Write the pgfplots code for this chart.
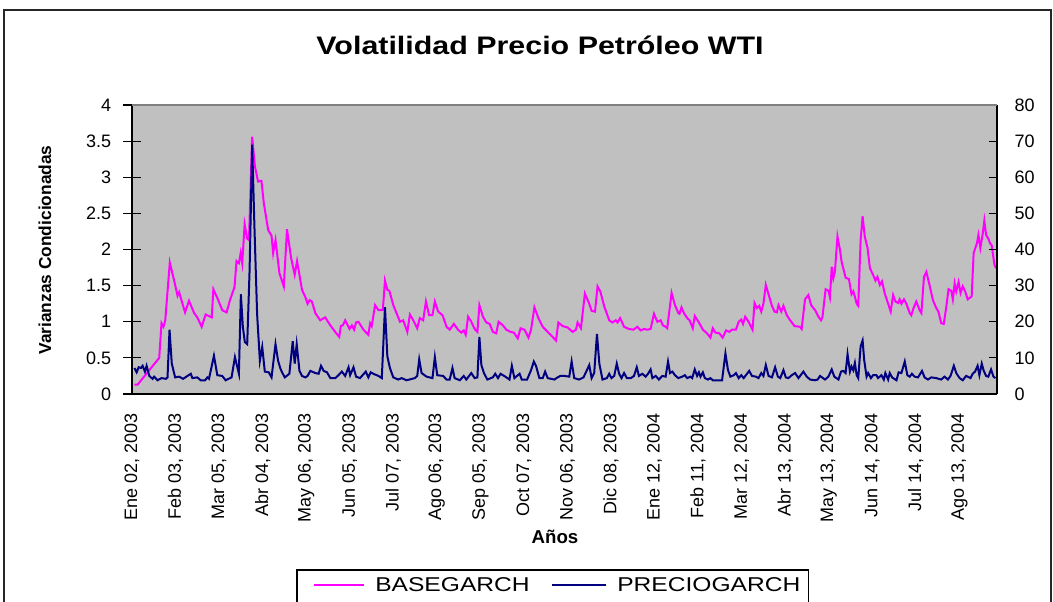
\documentclass[border=0pt]{standalone}
\usepackage{pgfplots}
\pgfplotsset{compat=1.18}
\usepackage{graphicx}
\usepackage{fontspec}
\setmainfont{Liberation Sans}
\definecolor{bgGray}{RGB}{192,192,192}
\definecolor{mag}{RGB}{255,0,255}
\definecolor{nav}{RGB}{0,0,128}
\begin{document}
\begin{tikzpicture}
\path[use as bounding box] (-99pt,-156pt) rectangle (690.75pt,295.5pt);
\clip (-99pt,-156pt) rectangle (690.75pt,295.5pt);
\draw[black!85, line width=0.9pt] (-96pt,288pt) rectangle (689.25pt,-175pt);
\begin{axis}[
 at={(0pt,0pt)}, anchor=south west, scale only axis,
 width=648.75pt, height=216.75pt,
 xmin=0, xmax=437, ymin=0, ymax=4,
 axis x line*=bottom, axis y line*=left,
 axis line style={-, black, line width=1.1pt},
 axis background/.style={fill=bgGray},
 xtick={0,22,...,418},
 xticklabels={{Ene 02, 2003},{Feb 03, 2003},{Mar 05, 2003},{Abr 04, 2003},{May 06, 2003},{Jun 05, 2003},{Jul 07, 2003},{Ago 06, 2003},{Sep 05, 2003},{Oct 07, 2003},{Nov 06, 2003},{Dic 08, 2003},{Ene 12, 2004},{Feb 11, 2004},{Mar 12, 2004},{Abr 13, 2004},{May 13, 2004},{Jun 14, 2004},{Jul 14, 2004},{Ago 13, 2004}},
 xticklabel style={rotate=90, anchor=east, font=\fontsize{13.5}{13.5}\selectfont, inner sep=0pt},
 xticklabel shift=8pt,
 x tick style={draw=none},
 ytick={0,0.5,...,4},
 yticklabel style={font=\fontsize{13.5}{13.5}\selectfont, inner sep=0pt},
 yticklabel shift=9pt,
 y tick style={black, line width=0.9pt},
 tick align=center, major tick length=12.75pt,
 /pgf/number format/assume math mode=true,
]
\addplot[mag, line width=1.5pt] coordinates {
(1.2,0.13)(2.85,0.13)(13.75,0.50)(14.9,0.98)(15.9,0.93)(16.8,1.02)(19.1,1.82)(21.3,1.57)(23,1.36)(23.8,1.41)(26.8,1.13)(28.8,1.29)(31.4,1.12)(33,1.06)(35.2,0.93)(37.2,1.10)(40.3,1.06)(41.1,1.45)(43.1,1.33)(45.6,1.16)(47.8,1.13)(49.5,1.30)(51.8,1.48)(52.8,1.84)(54,1.81)(54.9,1.95)(55.7,1.81)(56.9,2.35)(58.2,2.15)(59.1,2.13)(60.7,3.56)(62.1,3.15)(63.7,2.94)(65.4,2.95)(66.6,2.64)(68.8,2.27)(70.5,2.19)(71.3,1.95)(72.5,2.13)(74.5,1.67)(76.7,1.49)(78.3,2.28)(80.4,1.88)(82.2,1.65)(83.4,1.84)(85.9,1.44)(87.6,1.34)
(88.7,1.25)(89.75,1.30)(90.9,1.28)(92.6,1.12)(95.1,1.02)(97.6,1.06)(100.2,0.95)(103.2,0.84)(104.7,0.79)(105.5,0.94)(106.5,0.95)(107.7,1.02)(109.9,0.90)(111.1,0.95)(112.2,0.89)(113.2,0.99)(114.4,1.00)(116.9,0.89)(119.4,0.82)(120.3,0.98)(121.1,0.94)(122.8,1.23)(124.5,1.16)(126.7,1.16)(127.8,1.57)(129,1.44)(130,1.43)(132,1.23)(135.4,1.00)(137,1.02)(139.1,0.86)(140.4,1.10)(142.1,1.02)(144.1,0.91)(145.4,1.05)(147.1,1.02)(148.5,1.28)(150.1,1.09)(151.8,1.09)(153,1.28)(154.7,1.14)(156.9,1.09)(158.9,0.93)(160.5,0.89)(162.6,0.97)(164.7,0.89)(166.4,0.85)(167.6,0.88)(168.6,0.82)(169.8,1.07)(171.4,1.00)(173.1,0.90)(174.5,0.86)
(175.5,1.23)(177.3,1.07)(179,0.99)(180.7,0.97)(182.3,0.86)(184,0.84)(185.2,1.00)(187.4,0.95)(189.1,0.89)(191.2,0.86)(192.9,0.85)(194.9,0.77)(196.3,0.91)(198.3,0.89)(200.3,0.78)(201.6,0.89)(203.3,1.20)(205.3,1.05)(207.5,0.93)(210,0.86)(212.5,0.79)(214.2,0.74)(215.4,0.99)(217.6,0.94)(220.1,0.92)(222.6,0.86)(224.3,0.89)(225.1,0.99)(226.8,0.91)(228.8,1.39)(231,1.25)(232.2,1.15)(233.9,1.14)(235.2,1.49)(236.6,1.42)(238.6,1.21)(241.1,1.02)(242.7,0.99)(244.4,1.02)(245.3,0.99)(246.6,1.05)(248.6,0.93)(251.1,0.90)(253.3,0.89)(255.3,0.93)(257,0.88)(258.7,0.90)(260.3,0.89)(262,0.90)
(263.7,1.11)(265.4,1.00)(267.1,1.02)(268.2,0.95)(269.6,0.93)(270.4,0.91)(272.6,1.40)(274.3,1.23)(276,1.12)(276.6,1.11)(277.6,1.20)(278.8,1.12)(280.5,1.05)(281.7,1.02)(283.3,0.91)(284.3,1.08)(286.4,0.99)(288.4,0.89)(290.5,0.84)(292.2,0.78)(293.4,0.91)(294.7,0.85)(296.7,0.84)(298.4,0.78)(300.1,0.88)(301.8,0.86)(303.1,0.89)(305.1,0.89)(306.5,1.00)(307.8,1.03)(308.7,0.97)(309.8,1.07)(311.5,1.00)(313.5,0.89)(314.5,1.26)(315.7,1.19)(316.9,1.22)(317.9,1.14)(319,1.25)(320.2,1.51)(321.9,1.35)(323.3,1.22)(324.6,1.14)(325.8,1.13)(326.6,1.23)(328,1.14)(329.1,1.22)(330.8,1.09)(332.5,1.02)(334.7,0.94)(337.5,0.93)(338.3,0.90)(340,1.31)(341.7,1.37)(343.1,1.23)(345.1,1.16)(346.8,1.07)(348.1,1.02)(348.8,1.06)
(350.4,1.45)(351.8,1.43)(352.6,1.34)(353.5,1.76)(354.3,1.60)(355.1,1.69)(356.4,2.18)(357.7,1.99)(358.5,1.83)(359.8,1.69)(360.5,1.61)(362.2,1.59)(363.5,1.38)(364.4,1.42)(365.2,1.35)(366.1,1.25)(366.9,1.22)(368.1,2.13)(369.1,2.46)(370.2,2.18)(371.6,2.02)(372.8,1.74)(374.4,1.65)(375.6,1.57)(376.6,1.62)(377.8,1.51)(378.9,1.56)(380.3,1.39)(382,1.25)(383.3,1.14)(384.5,1.37)(385.7,1.28)(387,1.26)(387.8,1.31)(388.7,1.25)(390,1.31)(391.2,1.25)(392.9,1.12)(393.7,1.09)(394.6,1.17)(396.2,1.28)(397.9,1.16)(398.8,1.12)(400.1,1.62)(401.3,1.69)(402.9,1.51)(404.6,1.30)(406.3,1.19)(407.4,1.14)(408.8,0.98)(410.1,0.97)(411.3,1.19)(412.5,1.45)(413.9,1.43)(414.7,1.31)(415.6,1.53)(416.4,1.42)(417.6,1.55)(418.6,1.40)(419.7,1.49)(420.9,1.42)(422.2,1.31)(424.2,1.35)(425.2,1.95)(426.9,2.09)(427.6,2.20)(428.6,2.02)(429.8,2.22)(430.6,2.40)(431.5,2.20)(432.6,2.15)(433.6,2.08)(434.3,2.06)(435.7,1.79)(436.5,1.74)
};
\end{axis}
\begin{axis}[
 at={(0pt,0pt)}, anchor=south west, scale only axis,
 width=648.75pt, height=216.75pt,
 xmin=0, xmax=437, ymin=0, ymax=80,
 axis x line=none, axis y line*=right,
 axis line style={-, black, line width=1.1pt},
 ytick={0,10,...,80},
 yticklabel style={font=\fontsize{13.5}{13.5}\selectfont, inner sep=0pt},
 yticklabel shift=13pt,
 y tick style={black, line width=0.9pt},
 tick align=inside, major tick length=6pt,
 /pgf/number format/assume math mode=true,
]
\addplot[nav, line width=1.5pt] coordinates {
(1.2,7.2)(2.35,6.0)(3.36,7.4)(4.53,7.2)(5.37,7.8)(6.54,6.2)(7.38,7.8)(8.72,5.0)(10.4,4.2)(11.2,4.8)(12.9,3.8)(14.9,4.4)(17.1,4.2)(17.95,4.6)(18.96,17.8)(20.1,8.4)(21.8,4.6)(23.8,4.8)(25.8,4.2)(29.7,5.6)(30.5,4.4)(33.0,4.6)(34.7,3.8)(36.9,3.8)(38.1,4.6)(38.9,4.2)(41.4,10.6)(43.1,5.2)(45.6,5.0)(47.3,3.8)(50.3,4.6)(52,10.2)(54,5.6)(55,27.6)(56,18.6)(57,14.4)(58.2,13.8)(59.4,34.2)(60.7,69.0)(61.9,45.4)(63.2,22.2)(64.6,9.2)(65.8,13.0)(67.1,6.2)(69.1,6.0)(70.5,4.6)(72.5,13.8)(73.8,9.2)(75,7.0)(75.8,6.0)(77.2,4.6)(79.5,5.6)(81.2,14.6)(82.2,8.4)(83.2,13.8)(84.6,6.4)(85.9,5.0)(87.6,4.6)
(88.7,5.0)(90.1,6.4)(92.6,5.8)(94.3,5.6)(95.5,7.8)(96.8,6.4)(98.5,6.0)(100.2,4.4)(102.7,4.4)(104.3,5.2)(106,6.2)(107.7,5.0)(109.4,7.4)(110.2,5.2)(111.9,7.4)(113.2,4.8)(115.2,4.4)(118.1,6.2)(119.4,4.6)(120.6,6.0)(121.9,5.6)(124.5,5.0)(126.2,4.4)(127.8,24.0)(129,10.4)(130.3,7.2)(132,4.6)(134.5,4.0)(136.2,4.4)(138.7,3.8)(142.9,4.4)(144.1,5.0)(145.1,9.6)(146.3,5.8)(148.8,4.8)(151.8,4.4)(153,10.2)(154.2,5.2)(157.2,5.0)(158.9,4.0)(160.5,4.0)(161.9,7.2)(163,4.4)(165.6,3.8)(167.6,5.0)(168.9,4.0)(171.4,5.8)(173.1,4.4)(174.5,4.6)
(175.5,15.8)(176.5,8.0)(177.8,5.8)(179.5,4.0)(182.3,4.6)(183.5,5.6)(184.9,4.4)(186.2,5.6)(188.6,4.8)(190.7,4.0)(191.9,7.8)(193.2,4.4)(195.8,5.6)(196.9,4.0)(199.6,4.0)(201.6,6.6)(203,9.0)(204.1,7.8)(205.8,4.4)(207.5,4.4)(208.7,6.2)(210,4.4)(213.4,4.0)(215,4.6)(216.4,5.0)(218.4,5.0)(220.9,4.8)(222.1,9.0)(223.4,4.4)(225.9,4.0)(228.1,4.6)(229.3,6.0)(231,8.0)(232.2,4.4)(233.5,5.8)(234.9,16.6)(236.1,8.4)(237.7,4.0)(239.9,4.4)(241.1,5.6)(242.2,4.4)(243.6,5.0)(244.9,8.4)(246.1,5.6)(247.3,4.4)(248.6,5.8)(250,4.4)(252,4.4)(253.6,5.0)(255,7.4)(256.1,5.0)(257.8,5.6)(259.5,4.8)(260.7,5.6)(262,6.8)(262.9,4.4)
(264.6,5.0)(266.2,4.0)(267.9,5.0)(269.6,4.8)(270.8,9.0)(271.8,5.8)(273,6.2)(274.3,5.2)(276,4.4)(278,4.8)(279.3,5.2)(280.5,4.4)(282.1,4.8)(283,4.4)(284.3,6.8)(285.5,5.0)(286.4,6.0)(287.2,4.8)(288.4,6.0)(289.4,4.4)(291,4.0)(292.2,4.4)(293.4,3.8)(294.7,3.8)(298.1,3.8)(299.8,11.2)(301.1,6.6)(302.3,4.8)(304,5.2)(305.1,5.8)(306.5,4.4)(307.8,5.2)(309,4.4)(310.7,5.6)(311.8,6.4)(313.2,5.0)(315.2,4.8)(316.5,4.4)(317.9,5.8)(319,5.0)(320.2,8.0)(321.6,5.0)(323.3,4.6)(324.9,7.4)(326.3,4.8)(327.5,4.4)(329.1,6.6)(330.3,4.6)(331.6,4.4)(333.3,5.2)(335,5.8)(336.7,4.4)(339.2,6.2)(340.9,4.8)(342.6,4.0)(345.1,3.8)(346.4,4.0)(347.6,5.0)
(350.1,4.0)(351.8,4.8)(353.5,6.8)(354.8,4.8)(356.9,4.0)(358.2,6.2)(359.3,6.4)(360.5,5.8)(361.5,11.0)(362.7,6.2)(363.5,7.6)(364.4,6.6)(365.2,8.6)(366.1,5.2)(366.9,4.4)(368.1,13.2)(369.1,14.8)(369.9,9.4)(371.1,4.8)(371.9,5.8)(373.3,4.4)(374.4,5.2)(376.1,5.2)(376.9,4.4)(378.6,5.2)(379.8,4.0)(380.6,5.8)(382,4.0)(382.8,5.8)(384,4.6)(386.2,3.8)(387.3,6.0)(388.7,5.8)(390.4,9.0)(391.7,5.2)(392.9,4.8)(394,5.6)(395.4,4.8)(397.1,4.6)(399.1,6.4)(400.4,4.6)(402.1,4.0)(403.8,4.6)(406.3,4.4)(408.8,4.0)(410.5,4.8)(412.2,4.0)(413.5,5.0)(415.2,7.8)(416.4,5.8)(418.1,4.4)(419.7,3.8)(421.4,5.0)(423.6,4.4)(424.7,5.6)(425.9,6.2)(427.2,7.8)(428.1,5.2)(429.3,8.4)(430.3,6.4)(431.5,5.0)(432.6,4.8)(434,6.8)(435.2,4.8)(436.2,4.4)
};
\end{axis}
\draw[gray, line width=0.8pt] (0pt,216.75pt) -- (648.75pt,216.75pt);
\node[font=\bfseries\fontsize{19}{19}\selectfont] at (306pt,261.75pt) {\scalebox{1.2}[1]{Volatilidad Precio Petróleo WTI}};
\node[rotate=90, font=\bfseries\fontsize{13}{13}\selectfont] at (-65.25pt,108pt) {Varianzas Condicionadas};
\node[font=\bfseries\fontsize{14}{14}\selectfont] at (317.25pt,-107.25pt) {Años};
\draw[black, line width=0.8pt] (123.75pt,-132pt) rectangle (507.5pt,-175pt);
\draw[mag, line width=1.5pt] (136.5pt,-143.25pt) -- (174pt,-143.25pt);
\node[anchor=west, font=\fontsize{15}{15}\selectfont, inner sep=0pt] at (182.25pt,-143.25pt) {\scalebox{1.23}[1]{BASEGARCH}};
\draw[nav, line width=1.5pt] (315pt,-143.25pt) -- (355.5pt,-143.25pt);
\node[anchor=west, font=\fontsize{15}{15}\selectfont, inner sep=0pt] at (363.75pt,-143.25pt) {\scalebox{1.23}[1]{PRECIOGARCH}};
\end{tikzpicture}
\end{document}
